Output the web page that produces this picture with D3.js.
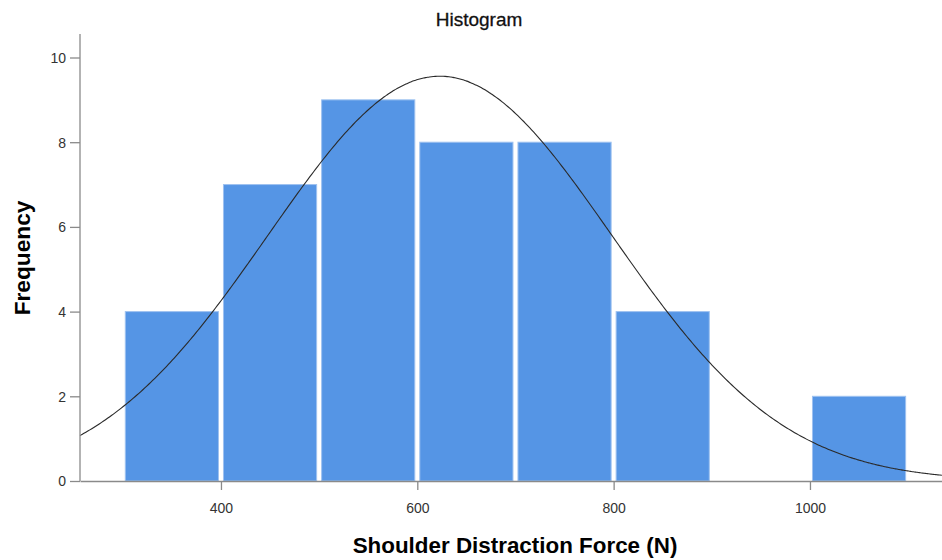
<!DOCTYPE html>
<html><head><meta charset="utf-8">
<script src="https://cdn.jsdelivr.net/npm/d3@7"></script>
<style>body{margin:0;background:#fff}svg{display:block}</style>
</head><body>
<svg id="c" width="942" height="560"></svg>
<script>
const binStarts = [300, 400, 500, 600, 700, 800, 900, 1000];
const binWidth = 100;
const frequencies = [4, 7, 9, 8, 8, 4, 0, 2];
const xTicks = [400, 600, 800, 1000];
const yTicks = [0, 2, 4, 6, 8, 10];
const normalMean = 623;
const normalSD = 175.3;
const sampleN = 42;

const svg = d3.select("#c");
const x = d3.scaleLinear().domain([256.4, 1134.5]).range([80, 942]);
const y = d3.scaleLinear().domain([0, 10]).range([481, 57.5]);
const FONT = "Liberation Sans, Arial, sans-serif";

// bars
const bins = binStarts.map((s, i) => ({s, f: frequencies[i]})).filter(d => d.f > 0);
svg.append("g").selectAll("rect").data(bins).join("rect")
  .attr("x", d => x(d.s) + 2.5)
  .attr("width", d => x(d.s + binWidth) - x(d.s) - 5)
  .attr("y", d => y(d.f))
  .attr("height", d => y(0) - y(d.f))
  .attr("fill", "#5595e5")
  .attr("stroke", "#9ec2f0")
  .attr("stroke-width", 1);

// normal curve
const pts = d3.range(256.4, 1134.6, 2).map(v => {
  const z = (v - normalMean) / normalSD;
  return [v, sampleN * binWidth / (normalSD * Math.sqrt(2 * Math.PI)) * Math.exp(-z * z / 2)];
});
svg.append("path").datum(pts)
  .attr("d", d3.line().x(d => x(d[0])).y(d => y(d[1])).curve(d3.curveBasis))
  .attr("fill", "none").attr("stroke", "#2a2a2a").attr("stroke-width", 1.1);

// axes
const axCol = "#8a8a8a";
const gx = svg.append("g").attr("transform", `translate(0,${y(0)})`)
  .call(d3.axisBottom(x).tickValues(xTicks).tickSize(9).tickSizeOuter(0).tickFormat(d3.format("d")));
const gy = svg.append("g").attr("transform", `translate(${x.range()[0]},0)`)
  .call(d3.axisLeft(y).tickValues(yTicks).tickSize(10).tickSizeOuter(0));
gy.select(".domain").attr("d", `M0,${y(0)}V34`);
[gx, gy].forEach(g => {
  g.attr("font-size", 14).attr("font-family", FONT);
  g.select(".domain").attr("stroke", axCol).attr("stroke-width", 1.3);
  g.selectAll(".tick line").attr("stroke", axCol).attr("stroke-width", 1.3);
  g.selectAll(".tick text").attr("fill", "#333").attr("font-family", FONT).attr("font-size", 14);
});
gx.selectAll(".tick text").attr("y", 0).attr("dy", null).attr("transform", "translate(0,32)");
gy.selectAll(".tick text").attr("x", -14).attr("dy", "0.35em");

// titles
svg.append("text").attr("x", 479).attr("y", 26).attr("text-anchor", "middle")
  .attr("font-family", FONT).attr("font-size", 19).attr("fill", "#111")
  .attr("stroke", "#111").attr("stroke-width", 0.3)
  .text("Histogram");
svg.append("text").attr("x", 515).attr("y", 553).attr("text-anchor", "middle")
  .attr("font-family", FONT).attr("font-size", 22.4).attr("font-weight", "bold").attr("fill", "#000")
  .text("Shoulder Distraction Force (N)");
svg.append("text").attr("transform", "translate(30,258) rotate(-90)").attr("text-anchor", "middle")
  .attr("font-family", FONT).attr("font-size", 22.7).attr("font-weight", "bold").attr("fill", "#000")
  .text("Frequency");
</script>
</body></html>
